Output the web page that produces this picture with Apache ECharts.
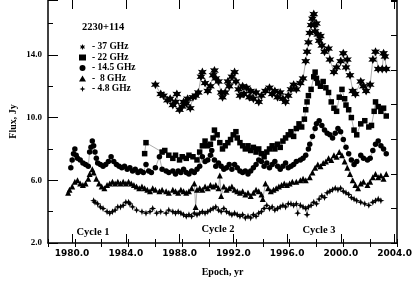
<!DOCTYPE html>
<html>
<head>
<meta charset="utf-8">
<script src="https://cdn.jsdelivr.net/npm/echarts@6/dist/echarts.min.js"></script>
<style>
  html, body { margin: 0; padding: 0; background: #fff; }
  #chart { width: 415px; height: 288px; }
</style>
</head>
<body>
<div id="chart"></div>
<script>
// 2230+114 light curves, [epoch (yr), flux (Jy)]
var s37 = [[1986.0,12.1],[1986.4,11.5],[1986.6,11.4],[1986.9,11.1],[1987.1,11.2],[1987.3,10.8],[1987.5,11.0],[1987.6,11.5],[1987.8,10.5],[1988.0,10.7],[1988.1,11.0],[1988.3,10.9],[1988.4,11.2],[1988.6,10.6],[1988.8,11.3],[1989.0,11.4],[1989.2,11.6],[1989.4,12.6],[1989.5,12.9],[1989.7,12.2],[1989.9,11.7],[1990.1,12.0],[1990.3,12.7],[1990.4,13.0],[1990.5,12.5],[1990.7,12.3],[1990.9,11.6],[1991.0,11.3],[1991.2,11.6],[1991.4,12.3],[1991.5,12.0],[1991.7,12.6],[1991.9,12.9],[1992.0,12.3],[1992.2,11.8],[1992.3,11.4],[1992.5,12.0],[1992.6,11.5],[1992.8,11.9],[1993.0,11.3],[1993.1,11.7],[1993.3,11.2],[1993.5,11.6],[1993.7,11.0],[1993.9,11.4],[1994.2,11.7],[1994.5,11.9],[1994.7,11.5],[1994.9,11.7],[1995.1,11.3],[1995.3,11.6],[1995.5,11.2],[1995.7,11.0],[1995.9,11.4],[1996.1,11.8],[1996.3,12.1],[1996.5,11.8],[1996.8,12.2],[1997.0,12.5],[1997.2,13.6],[1997.3,14.2],[1997.4,14.8],[1997.5,15.4],[1997.6,15.9],[1997.7,16.3],[1997.8,16.6],[1997.85,15.9],[1997.9,15.5],[1998.0,16.0],[1998.1,15.3],[1998.2,14.9],[1998.3,15.2],[1998.4,14.6],[1998.6,14.2],[1998.9,14.4],[1999.0,13.7],[1999.3,12.9],[1999.5,13.2],[1999.8,13.6],[2000.0,14.1],[2000.2,13.2],[2000.3,13.7],[2000.5,12.7],[2000.7,11.7],[2000.9,11.5],[2001.3,12.3],[2001.5,12.0],[2001.7,11.7],[2002.0,12.1],[2002.2,13.7],[2002.4,14.2],[2002.6,13.1],[2002.9,13.1],[2003.0,14.1],[2003.1,13.9],[2003.2,13.1]];

var s22 = [[1985.2,7.7],[1985.3,8.4],[1986.5,7.8],[1986.7,7.9],[1987.0,7.6],[1987.3,7.4],[1987.5,7.6],[1987.8,7.3],[1988.0,7.5],[1988.3,7.4],[1988.5,7.6],[1988.8,7.5],[1989.1,7.3],[1989.3,7.8],[1989.5,8.2],[1989.7,8.5],[1989.9,8.2],[1990.1,8.3],[1990.3,8.7],[1990.4,9.2],[1990.6,8.9],[1990.8,8.4],[1991.0,8.0],[1991.2,8.2],[1991.4,8.4],[1991.6,8.6],[1991.8,8.9],[1992.0,9.1],[1992.1,8.7],[1992.3,8.4],[1992.5,8.2],[1992.7,8.0],[1992.9,8.2],[1993.1,7.9],[1993.3,8.1],[1993.5,7.8],[1993.7,8.0],[1993.9,7.7],[1994.1,7.5],[1994.3,7.8],[1994.5,8.0],[1994.7,8.2],[1994.9,8.0],[1995.1,8.3],[1995.3,8.1],[1995.5,8.5],[1995.7,8.7],[1995.9,8.9],[1996.1,9.1],[1996.3,8.8],[1996.5,9.3],[1996.7,9.6],[1996.9,9.4],[1997.1,9.9],[1997.2,10.5],[1997.3,11.0],[1997.4,11.4],[1997.6,11.8],[1997.8,12.6],[1997.9,12.9],[1998.0,12.5],[1998.1,12.2],[1998.3,12.0],[1998.5,12.3],[1998.7,11.9],[1998.9,11.6],[1999.1,11.0],[1999.3,10.6],[1999.5,10.4],[1999.7,11.3],[1999.9,11.8],[2000.1,11.2],[2000.2,10.8],[2000.4,10.5],[2000.6,10.0],[2000.8,9.2],[2001.0,8.9],[2001.3,9.6],[2001.6,9.8],[2001.9,9.4],[2002.1,9.5],[2002.3,10.4],[2002.4,11.0],[2002.6,10.7],[2002.8,10.4],[2003.0,10.6],[2003.2,10.1]];

var s145 = [[1979.7,6.8],[1979.8,7.3],[1979.9,7.7],[1980.0,8.0],[1980.1,7.6],[1980.2,7.4],[1980.4,7.3],[1980.6,7.1],[1980.8,7.0],[1981.0,6.9],[1981.1,7.8],[1981.2,8.1],[1981.3,8.5],[1981.4,8.2],[1981.5,7.8],[1981.6,7.4],[1981.7,7.1],[1981.9,7.0],[1982.1,6.9],[1982.3,7.0],[1982.5,7.2],[1982.7,7.5],[1982.9,7.2],[1983.1,7.0],[1983.3,6.9],[1983.5,6.8],[1983.7,6.9],[1983.9,6.7],[1984.1,6.8],[1984.3,6.6],[1984.5,6.7],[1984.7,6.5],[1984.9,6.6],[1985.1,6.5],[1985.3,7.0],[1985.5,6.6],[1985.7,6.5],[1986.0,6.8],[1986.3,7.5],[1986.5,6.7],[1986.8,6.6],[1987.0,6.5],[1987.3,6.6],[1987.5,6.4],[1987.7,6.6],[1987.9,6.5],[1988.1,6.7],[1988.3,6.5],[1988.5,6.4],[1988.7,6.6],[1988.9,6.5],[1989.1,6.7],[1989.3,6.9],[1989.5,7.5],[1989.7,7.2],[1989.9,7.3],[1990.1,7.6],[1990.2,7.9],[1990.4,7.3],[1990.5,6.9],[1990.7,7.1],[1990.9,6.9],[1991.1,6.7],[1991.3,6.8],[1991.5,7.0],[1991.7,6.7],[1991.9,7.0],[1992.1,6.8],[1992.3,6.6],[1992.5,6.5],[1992.7,6.6],[1992.9,6.4],[1993.1,6.6],[1993.3,6.8],[1993.5,7.0],[1993.7,7.3],[1993.9,7.2],[1994.1,6.9],[1994.3,7.1],[1994.5,6.8],[1994.7,7.0],[1994.9,7.2],[1995.1,6.9],[1995.3,6.7],[1995.5,6.9],[1995.7,7.1],[1995.9,6.8],[1996.1,6.9],[1996.3,7.0],[1996.5,7.2],[1996.8,7.3],[1997.0,7.4],[1997.2,7.6],[1997.4,8.0],[1997.5,8.3],[1997.7,8.8],[1997.9,9.3],[1998.0,9.6],[1998.2,9.8],[1998.4,9.5],[1998.6,9.2],[1998.8,9.0],[1999.0,8.9],[1999.2,8.7],[1999.4,9.0],[1999.6,9.3],[1999.8,9.1],[2000.0,8.6],[2000.2,8.1],[2000.4,7.7],[2000.6,7.3],[2000.8,7.0],[2001.0,7.2],[2001.3,7.6],[2001.5,7.4],[2001.8,7.3],[2002.0,7.4],[2002.2,7.9],[2002.4,8.3],[2002.6,8.5],[2002.8,8.2],[2003.0,8.0],[2003.2,7.7]];

var s8 = [[1979.5,5.2],[1979.6,5.4],[1979.8,5.6],[1980.0,5.9],[1980.2,6.0],[1980.4,5.8],[1980.6,5.7],[1980.8,5.8],[1981.0,6.1],[1981.1,6.4],[1981.3,6.7],[1981.4,6.5],[1981.6,6.1],[1981.8,5.8],[1982.0,5.6],[1982.2,5.5],[1982.4,5.7],[1982.6,5.8],[1982.8,5.9],[1983.0,5.8],[1983.2,5.9],[1983.4,5.8],[1983.6,5.9],[1983.8,5.8],[1984.0,5.9],[1984.2,5.8],[1984.4,5.7],[1984.6,5.6],[1984.8,5.5],[1985.0,5.6],[1985.2,5.5],[1985.4,5.4],[1985.6,5.3],[1985.8,5.5],[1986.0,5.4],[1986.3,5.3],[1986.5,5.4],[1986.8,5.3],[1987.0,5.2],[1987.3,5.4],[1987.5,5.3],[1987.7,5.2],[1987.9,5.4],[1988.1,5.3],[1988.3,5.2],[1988.5,5.3],[1988.7,5.5],[1988.9,5.8],[1989.0,4.3],[1989.1,5.4],[1989.3,5.5],[1989.5,5.4],[1989.7,5.6],[1989.9,5.5],[1990.1,5.7],[1990.3,5.6],[1990.5,5.7],[1990.7,5.5],[1990.8,6.3],[1990.9,5.0],[1991.1,5.6],[1991.3,5.4],[1991.5,5.5],[1991.7,5.6],[1991.9,5.4],[1992.1,5.3],[1992.3,5.2],[1992.5,5.3],[1992.7,5.1],[1992.9,5.2],[1993.1,5.0],[1993.3,5.2],[1993.5,5.4],[1993.7,5.3],[1993.9,5.1],[1994.0,4.8],[1994.2,5.8],[1994.4,5.5],[1994.6,5.3],[1994.8,5.4],[1995.0,5.5],[1995.2,5.6],[1995.4,5.7],[1995.6,5.8],[1995.8,5.7],[1996.0,5.8],[1996.2,5.9],[1996.5,5.9],[1996.8,6.0],[1997.0,6.1],[1997.2,6.0],[1997.5,6.2],[1997.7,6.5],[1997.9,6.8],[1998.1,7.0],[1998.3,6.9],[1998.5,7.1],[1998.7,7.2],[1998.9,7.4],[1999.1,7.3],[1999.3,7.6],[1999.5,7.5],[1999.7,7.8],[1999.9,7.6],[2000.1,7.2],[2000.3,6.8],[2000.5,6.4],[2000.7,6.0],[2000.9,5.7],[2001.1,5.5],[2001.3,5.8],[2001.5,5.9],[2001.8,5.7],[2002.0,5.9],[2002.2,6.2],[2002.4,6.4],[2002.6,6.2],[2002.8,6.3],[2003.0,6.1],[2003.2,6.4]];

var s48 = [[1981.4,4.7],[1981.5,4.6],[1981.7,4.5],[1981.9,4.3],[1982.1,4.2],[1982.4,4.0],[1982.6,3.9],[1982.8,4.0],[1983.0,4.1],[1983.2,4.3],[1983.4,4.3],[1983.6,4.4],[1983.8,4.6],[1984.0,4.6],[1984.1,4.5],[1984.3,4.3],[1984.6,4.1],[1985.0,4.0],[1985.3,3.9],[1985.6,4.0],[1985.8,4.2],[1986.1,3.9],[1986.4,4.0],[1986.8,3.9],[1987.0,4.1],[1987.3,4.0],[1987.5,3.9],[1987.7,4.0],[1987.9,3.9],[1988.1,3.8],[1988.3,3.7],[1988.5,3.8],[1988.7,3.7],[1988.9,3.9],[1989.1,3.8],[1989.3,3.9],[1989.5,4.0],[1989.7,3.9],[1989.9,4.0],[1990.1,4.1],[1990.3,4.2],[1990.5,4.3],[1990.7,4.1],[1990.9,4.0],[1991.1,4.2],[1991.3,4.0],[1991.5,3.9],[1991.7,3.8],[1991.9,3.9],[1992.1,3.8],[1992.3,3.7],[1992.5,3.8],[1992.7,3.6],[1992.9,3.7],[1993.1,3.6],[1993.3,3.8],[1993.5,3.7],[1993.7,3.9],[1993.9,4.0],[1994.1,4.2],[1994.3,4.4],[1994.5,4.2],[1994.7,4.3],[1994.9,4.1],[1995.1,4.2],[1995.3,4.3],[1995.5,4.4],[1995.7,4.3],[1995.9,4.5],[1996.1,4.5],[1996.3,4.4],[1996.5,4.5],[1996.6,3.9],[1996.8,4.4],[1997.0,4.3],[1997.2,4.2],[1997.3,3.8],[1997.4,4.3],[1997.6,4.4],[1997.8,4.6],[1998.0,4.5],[1998.2,4.8],[1998.4,5.0],[1998.6,4.9],[1998.8,5.2],[1999.0,5.3],[1999.2,5.4],[1999.4,5.5],[1999.6,5.4],[1999.8,5.5],[2000.0,5.3],[2000.2,5.2],[2000.4,5.1],[2000.6,4.9],[2000.8,4.8],[2001.0,4.7],[2001.3,4.6],[2001.6,4.5],[2001.9,4.4],[2002.2,4.6],[2002.4,4.7],[2002.6,4.8],[2002.8,4.7]];

var bandNames = ['- 37 GHz', '- 22 GHz', '- 14.5 GHz', '-  8 GHz', '- 4.8 GHz'];
var cycleLabels = [['Cycle 1', 93, 232], ['Cycle 2', 218, 229], ['Cycle 3', 319, 230]];

var STAR6 = 'path://M10 0L12.5 5.67L18.66 5L15 10L18.66 15L12.5 14.33L10 20L7.5 14.33L1.34 15L5 10L1.34 5L7.5 5.67Z';
var STAR4 = 'path://M10 0L12.6 7.4L20 10L12.6 12.6L10 20L7.4 12.6L0 10L7.4 7.4Z';
var symbols = [STAR6, 'rect', 'circle', 'triangle', STAR4];
var sizes = [9, 5.5, 5.5, 6, 7];
var allData = [s37, s22, s145, s8, s48];

var serif = 'Liberation Serif';

function mkSeries(i) {
  return {
    name: bandNames[i],
    type: 'line',
    xAxisIndex: 0,
    yAxisIndex: 0,
    data: allData[i],
    symbol: symbols[i],
    symbolSize: sizes[i],
    showSymbol: true,
    itemStyle: { color: '#000' },
    lineStyle: { color: '#777', width: 0.6 },
    emphasis: { disabled: true }
  };
}

var noLine = { show: false };
var chart = echarts.init(document.getElementById('chart'), null, { renderer: 'canvas', width: 415, height: 288 });

var option = {
  animation: false,
  backgroundColor: '#fff',
  grid: [
    { left: 45, right: 18, top: -3, bottom: 45 },
    { left: 72, right: 18, top: -3, bottom: 45 }
  ],
  legend: {
    orient: 'vertical',
    left: 74,
    top: 37,
    itemWidth: 7,
    itemHeight: 6,
    itemGap: 0.5,
    selectedMode: false,
    textStyle: { fontFamily: serif, fontWeight: 'bold', fontSize: 9.5, color: '#000', padding: [0, 0, 0, 1] },
    data: bandNames.map(function (n, i) {
      return { name: n, icon: symbols[i], itemStyle: { color: '#000' } };
    })
  },
  xAxis: [
    { // minor ticks, bottom
      type: 'value', gridIndex: 0, min: 1978, max: 2004, interval: 2,
      name: 'Epoch, yr', nameLocation: 'middle', nameGap: 24,
      nameTextStyle: { fontFamily: serif, fontWeight: 'bold', fontSize: 10, color: '#000' },
      axisLine: { show: true, lineStyle: { color: '#000', width: 1.5 } },
      axisTick: { inside: true, length: 4, lineStyle: { color: '#000' } },
      axisLabel: { show: false }, splitLine: noLine
    },
    { // minor ticks, top
      type: 'value', gridIndex: 0, position: 'top', min: 1978, max: 2004, interval: 2,
      axisLine: noLine,
      axisTick: { inside: true, length: 4, lineStyle: { color: '#000' } },
      axisLabel: { show: false }, splitLine: noLine
    },
    { // major ticks + labels, bottom
      type: 'value', gridIndex: 1, position: 'bottom', min: 1980, max: 2004, interval: 4,
      axisLine: noLine,
      axisTick: { inside: true, length: 9, lineStyle: { color: '#000' } },
      axisLabel: {
        margin: 6, fontFamily: 'DejaVu Sans', fontWeight: 'bold', fontSize: 9, color: '#000',
        formatter: function (v) { return v.toFixed(1); }
      },
      splitLine: noLine
    },
    { // major ticks, top
      type: 'value', gridIndex: 1, position: 'top', min: 1980, max: 2004, interval: 4,
      axisLine: noLine,
      axisTick: { inside: true, length: 9, lineStyle: { color: '#000' } },
      axisLabel: { show: false }, splitLine: noLine
    }
  ],
  yAxis: [
    { // data axis with minor ticks
      type: 'value', gridIndex: 0, position: 'left', min: 2, max: 17.5, interval: 2,
      name: 'Flux, Jy', nameLocation: 'middle', nameGap: 30,
      nameTextStyle: { fontFamily: serif, fontWeight: 'bold', fontSize: 10, color: '#000' },
      axisLine: { show: true, lineStyle: { color: '#000', width: 1.5 } },
      axisTick: { inside: true, length: 5, lineStyle: { color: '#000' } },
      axisLabel: { show: false }, splitLine: noLine
    },
    { // major ticks + labels (value - 2)
      type: 'value', gridIndex: 0, position: 'left', offset: 0, min: 0, max: 15.5, interval: 4,
      axisLine: noLine,
      axisTick: { inside: true, length: 10, lineStyle: { color: '#000' } },
      axisLabel: {
        margin: 6, fontFamily: serif, fontWeight: 'bold', fontSize: 9, color: '#000',
        formatter: function (v) { return v % 4 === 0 ? (v + 2).toFixed(1) : ''; }
      },
      splitLine: noLine
    },
    { // right frame
      type: 'value', gridIndex: 0, position: 'right', min: 0, max: 7.03, interval: 1,
      axisLine: { show: true, lineStyle: { color: '#000', width: 1.5 } },
      axisTick: { inside: true, length: 6, lineStyle: { color: '#000' } },
      axisLabel: { show: false }, splitLine: noLine
    },
    { type: 'value', gridIndex: 1, min: 0, max: 1, show: false }
  ],
  graphic: [
    {
      type: 'text', left: 82, top: 22,
      style: { text: '2230+114', font: 'bold 10.5px "Liberation Serif"', fill: '#000' }
    }
  ].concat(cycleLabels.map(function (c) {
    return {
      type: 'text', x: c[1], y: c[2],
      style: { text: c[0], font: 'bold 10.5px "Liberation Serif"', fill: '#000', align: 'center', verticalAlign: 'middle' }
    };
  })),
  series: [0, 1, 2, 3, 4].map(mkSeries)
};

chart.setOption(option);
</script>
</body>
</html>
